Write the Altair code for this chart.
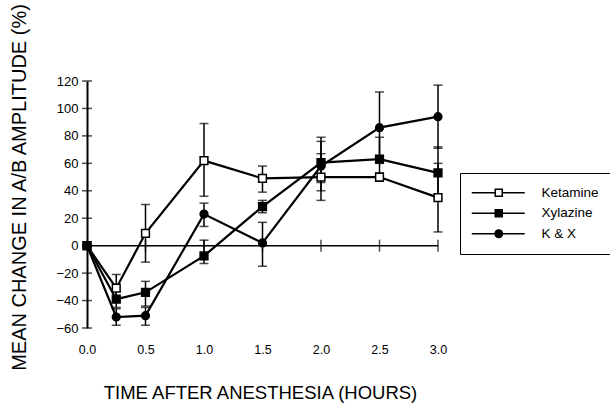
import altair as alt
import pandas as pd

times = [0.0, 0.25, 0.5, 1.0, 1.5, 2.0, 2.5, 3.0]
series_names = ["Ketamine", "Xylazine", "K & X"]

ket_mean = [0, -31, 9, 62, 49, 50, 50, 35]
ket_lo = [0, -41, -12, 36, 39, 33, 47, 10]
ket_hi = [0, -21, 30, 89, 58, 67, 53, 60]

xyl_mean = [0, -39, -34, -7.5, 28.5, 60.5, 63, 53]
xyl_lo = [0, -45, -44, -13, 24, 46, 47, 34]
xyl_hi = [0, -33, -26, 4, 33, 79, 79, 72]

kx_mean = [0, -52, -51, 23, 2, 58, 86, 94]
kx_lo = [0, -58, -58, 14, -15, 40, 60, 71]
kx_hi = [0, -46, -45, 31, 17, 76, 112, 117]

y_ticks = [-60, -40, -20, 0, 20, 40, 60, 80, 100, 120]
x_ticks = [0.0, 0.5, 1.0, 1.5, 2.0, 2.5, 3.0]

rows = []
for name, m, lo, hi in [
    ("Ketamine", ket_mean, ket_lo, ket_hi),
    ("Xylazine", xyl_mean, xyl_lo, xyl_hi),
    ("K & X", kx_mean, kx_lo, kx_hi),
]:
    for t, v, l, h in zip(times, m, lo, hi):
        rows.append({"t": t, "v": v, "lo": l, "hi": h, "series": name})
df = pd.DataFrame(rows)
df_err = df[df["t"] > 0]

FONT = "Liberation Sans"
xs = alt.Scale(domain=[0, 3], nice=False, zero=False)
ys = alt.Scale(domain=[-60, 120], nice=False, zero=False)

X_AXIS = alt.Axis(values=x_ticks, format=".1f", ticks=False, domain=False, grid=False,
                  labelFontSize=12.5, labelPadding=15, labelFont=FONT, labelColor="black",
                  labelFlush=False, labelOverlap=False,
                  title="TIME AFTER ANESTHESIA (HOURS)", titleFontSize=18.5, titleFont=FONT,
                  titleFontWeight="normal", titleColor="black", titleX=173, titleY=70,
                  titleBaseline="alphabetic", titleAlign="center")
Y_AXIS = alt.Axis(values=y_ticks, ticks=False, domain=True, domainColor="black", domainWidth=2,
                  grid=False, labelFontSize=13, labelPadding=9, labelFont=FONT, labelColor="black",
                  labelFlush=False, labelOverlap=False,
                  title="MEAN CHANGE IN A/B AMPLITUDE (%)", titleFontSize=20, titleFont=FONT,
                  titleFontWeight="normal", titleColor="black", titleX=-62, titleY=106,
                  titleBaseline="alphabetic", titleAlign="center", titleAngle=-90)


def X(field):
    return alt.X(field, scale=xs, axis=X_AXIS)


def Y(field):
    return alt.Y(field, scale=ys, axis=Y_AXIS)


zero_line = alt.Chart(pd.DataFrame({"z": [0]})).mark_rule(color="black", strokeWidth=1.5).encode(
    y=Y("z:Q")
)
ytick_df = pd.DataFrame({"t": [0] * len(y_ticks), "v": y_ticks})
ytick_marks = alt.Chart(ytick_df).mark_tick(color="black", orient="horizontal", size=10, thickness=1.5).encode(
    x=X("t:Q"), y=Y("v:Q")
)
xtick_df = pd.DataFrame({"t": x_ticks[1:], "v": [0] * (len(x_ticks) - 1)})
xtick_marks = alt.Chart(xtick_df).mark_tick(color="black", orient="vertical", size=12, thickness=1.5).encode(
    x=X("t:Q"), y=Y("v:Q")
)

err_rule = alt.Chart(df_err).mark_rule(color="black", strokeWidth=1.5).encode(
    x=X("t:Q"), y=Y("lo:Q"), y2="hi:Q"
)
cap_lo = alt.Chart(df_err).mark_tick(color="black", orient="horizontal", size=9, thickness=1.5).encode(
    x=X("t:Q"), y=Y("lo:Q")
)
cap_hi = alt.Chart(df_err).mark_tick(color="black", orient="horizontal", size=9, thickness=1.5).encode(
    x=X("t:Q"), y=Y("hi:Q")
)

lines = alt.Chart(df).mark_line(color="black", strokeWidth=2.2).encode(
    x=X("t:Q"), y=Y("v:Q"), detail="series:N"
)

points = alt.Chart(df).mark_point(filled=False, stroke="black", strokeWidth=1.5, opacity=1).encode(
    x=X("t:Q"),
    y=Y("v:Q"),
    shape=alt.Shape("series:N", scale=alt.Scale(domain=series_names, range=["square", "square", "circle"]), legend=None),
    fill=alt.Fill("series:N", scale=alt.Scale(domain=series_names, range=["white", "black", "black"]), legend=None),
    size=alt.Size("series:N", scale=alt.Scale(domain=series_names, range=[60, 60, 55]), legend=None),
)

ket_path = "M-1.6,0H3.1M4.5,0H9M3.1,-0.7H4.5V0.7H3.1Z"
circ_path = "M-1.6,0H3.05M4.55,0H9M3.05,0A0.75,0.75 0 1,0 4.55,0A0.75,0.75 0 1,0 3.05,0Z"

LEG = alt.Legend(
    title=None, orient="none", legendX=373, legendY=92, padding=13,
    strokeColor="black", labelFont=FONT, labelFontSize=13.5, labelColor="black",
    symbolSize=100, symbolStrokeColor="black", symbolStrokeWidth=1.5, symbolOpacity=1,
    labelOffset=55, rowPadding=5.5,
)

leg_df = pd.DataFrame({"t": [-1, -1, -1], "v": [0, 0, 0], "series": series_names})
legend_layer = alt.Chart(leg_df).mark_point(filled=False, clip=True, opacity=1, strokeWidth=1.5).encode(
    x=X("t:Q"),
    y=Y("v:Q"),
    shape=alt.Shape("series:N", scale=alt.Scale(domain=series_names, range=[ket_path, ket_path, circ_path]), legend=LEG),
    fill=alt.Fill("series:N", scale=alt.Scale(domain=series_names, range=["white", "black", "black"]), legend=LEG),
    stroke=alt.Stroke("series:N", scale=alt.Scale(domain=series_names, range=["black", "black", "black"]), legend=LEG),
)

chart = alt.layer(
    zero_line, lines, err_rule, cap_lo, cap_hi, ytick_marks, xtick_marks, points, legend_layer
).resolve_scale(
    shape="independent", fill="independent", size="independent", stroke="independent"
).properties(
    width=351, height=247,
    autosize=alt.AutoSizeParams(type="none"),
    padding={"left": 87, "top": 81, "right": 172, "bottom": 77},
    background="white",
).configure_view(stroke=None)

chart.save("out.html", embed_options={"renderer": "svg", "actions": False})
